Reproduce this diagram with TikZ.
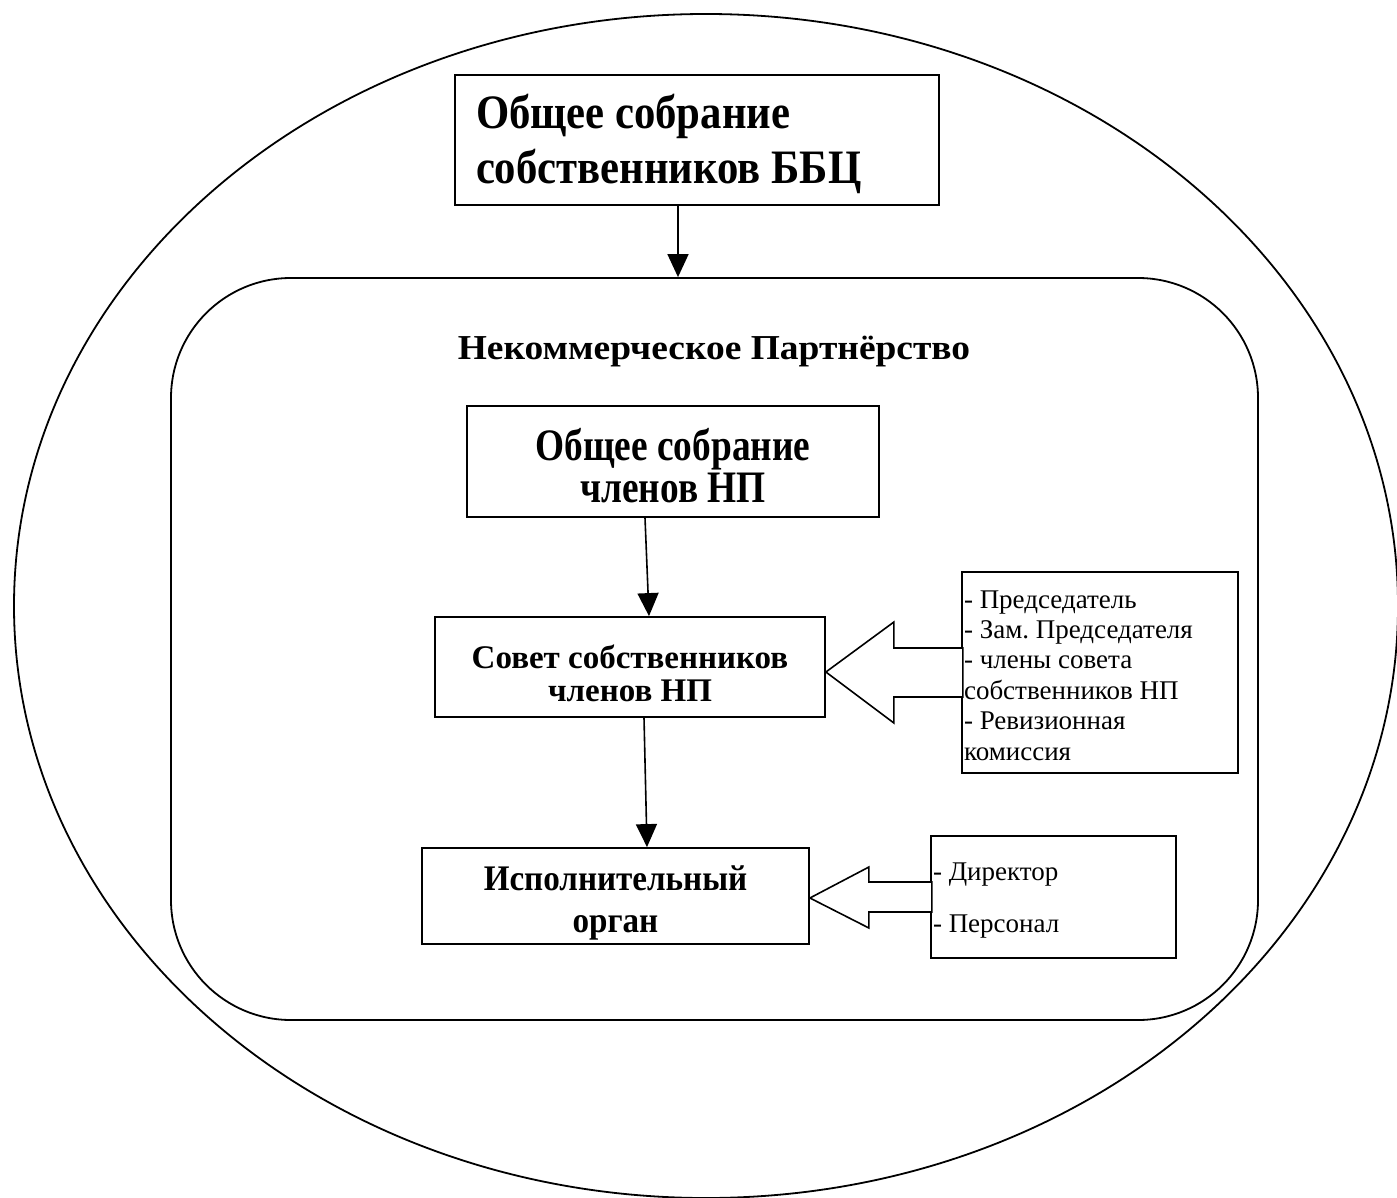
\documentclass[tikz,border=0pt]{standalone}
\usepackage{fontspec}
\setmainfont{Liberation Serif}
\newfontfamily\fTop{Liberation Serif}[FakeStretch=0.89]
\newfontfamily\fMid{Liberation Serif}[FakeStretch=0.83]
\newfontfamily\fTitle{Liberation Serif}[FakeStretch=1.07]
\newfontfamily\fIsp{Liberation Serif}[FakeStretch=0.92]
\usetikzlibrary{arrows.meta}
\tikzset{
  box/.style={draw, line width=1.8pt, rectangle, inner sep=0pt},
  arr/.style={line width=1.6pt, -{Triangle[length=23pt,width=21pt]}},
  hollow/.style={draw, line width=1.6pt, line join=miter, fill=white},
  outline/.style={draw, line width=1.8pt},
}
\begin{document}
\frenchspacing
\begin{tikzpicture}[x=1pt,y=-1pt]
\useasboundingbox (0,0) rectangle (1397,1198);
% outer ellipse
\draw[outline] (706,606) ellipse [x radius=692, y radius=592];
% top box
\node[box, minimum width=484pt, minimum height=130pt, text width=442pt, align=flush left,
      text height=40pt, text depth=62pt,
      font=\fTop\fontsize{48}{55}\selectfont\bfseries] (top) at (697,140)
      {Общее собрание\\собственников ББЦ};
% rounded partnership box
\node[outline, rounded corners=120pt, minimum width=1087pt, minimum height=742pt] (np) at (714.5,649) {};
\node[font=\fTitle\fontsize{35}{40}\selectfont\bfseries, inner sep=0pt, anchor=base] (nptitle) at (714,359) {Некоммерческое Партнёрство};
% general meeting of members
\node[box, minimum width=412pt, minimum height=111pt, text width=412pt, align=flush center,
      text height=40pt, text depth=43pt,
      font=\fMid\fontsize{45}{42}\selectfont\bfseries] (gm) at (673,461.5)
      {Общее собрание\\членов НП};
% council
\node[box, minimum width=390pt, minimum height=100pt, text width=390pt, align=flush center,
      text height=35pt, text depth=33pt,
      font=\fontsize{33}{33}\selectfont\bfseries] (sov) at (630,667)
      {Совет собственников\\членов НП};
% executive
\node[box, minimum width=387pt, minimum height=96pt, text width=373pt, align=flush center,
      text height=30pt, text depth=42pt,
      font=\fIsp\fontsize{36}{42}\selectfont\bfseries] (isp) at (615.5,896)
      {Исполнительный\\орган\hspace*{14pt}};
% list boxes
\node[box, minimum width=276pt, minimum height=201pt, text width=272pt, align=flush left,
      text height=20pt, text depth=149pt,
      font=\fontsize{27}{30.4}\selectfont] (lst) at (1100,672.5)
      {- Председатель\\- Зам. Председателя\\- члены совета\\собственников НП\\- Ревизионная\\комиссия};
\node[box, minimum width=245pt, minimum height=122pt, text width=241pt, align=flush left,
      text height=20pt, text depth=54pt,
      font=\fontsize{27}{31}\selectfont] (pers) at (1053.5,897)
      {- Директор\\[21pt]- Персонал};
% arrows
\draw[arr] (top.south -| 678,0) -- (np.north -| 678,0);
\draw[arr] (gm.south -| 645,0) -- (sov.north -| 649,0);
\draw[arr] (sov.south -| 644,0) -- (isp.north -| 647,0);
% hollow arrows
\draw[hollow] ([yshift=-5pt]sov.east) -- ++(68,-50) -- ++(0,26) -- ++(69,0) -- ++(0,49) -- ++(-69,0) -- ++(0,26) -- cycle;
\draw[hollow] ([yshift=-2pt]isp.east) -- ++(59,-31) -- ++(0,15) -- ++(63,0) -- ++(0,30) -- ++(-63,0) -- ++(0,16) -- cycle;
\end{tikzpicture}
\end{document}
